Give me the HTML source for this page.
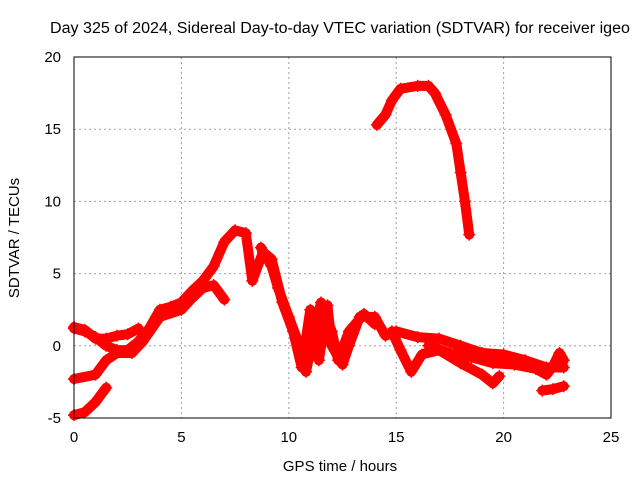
<!DOCTYPE html>
<html><head><meta charset="utf-8"><style>
body{margin:0;background:#fff}
svg text{font-family:"Liberation Sans",sans-serif;font-size:14px;fill:#000}
</style></head><body>
<svg id="chart" width="640" height="480" viewBox="0 0 640 480" xmlns="http://www.w3.org/2000/svg">
<rect width="640" height="480" fill="#fff"/>
<text x="340" y="33" text-anchor="middle" textLength="580" lengthAdjust="spacingAndGlyphs" style="font-size:15.5px">Day 325 of 2024, Sidereal Day-to-day VTEC variation (SDTVAR) for receiver igeo</text>
<g id="grid"></g>
<g id="series"></g>
<rect x="74" y="57" width="537" height="361" fill="none" stroke="#000" stroke-width="1"/>
<g id="ticks"></g>
<text x="340" y="471" text-anchor="middle" style="font-size:15px">GPS time / hours</text>
<text transform="translate(19,238) rotate(-90)" text-anchor="middle" style="font-size:15px">SDTVAR / TECUs</text>
</svg>
<script>
const xTicks=[0,5,10,15,20,25];
const yTicks=[-5,0,5,10,15,20];
const sA_h=[0,0.5,1,1.5,2,2.5,3,3.5,4,4.5,5,5.5,6,6.5,7,7.5,8,8.3,8.8,9.2,9.7,10.2,10.6,11,11.4,11.8,12,12.5,12.8,13.3,14,14.5,15,16,17,18,19,20,21,22,22.8];
const sA_v=[1.2,1,0.6,0,-0.3,-0.3,0.3,1.2,2.5,2.7,3,3.8,4.5,5.5,7.2,8,7.8,4.5,6.5,6,3,1,-1.5,2.5,-1,2.8,0,-1.3,0,2,2,0.7,1,0.6,0.5,0,-0.5,-0.6,-1,-1.5,-1.5];
const sB_h=[0,1,1.5,2,2.7,3.2,4,5,5.5,6,6.5,7];
const sB_v=[-2.3,-2,-1,-0.5,-0.5,0.3,2,2.5,3.3,4,4.2,3.2];
const sC_h=[0,0.5,1,1.5];
const sC_v=[-4.8,-4.6,-3.9,-2.9];
const sU_h=[0,0.5,1,1.5,2,2.5,3];
const sU_v=[1.3,1.1,0.5,0.5,0.7,0.8,1.2];
const sH_h=[8.7,9.2,9.5,10,10.5,10.8,11.2,11.5,12,12.3,12.8,13.5,14];
const sH_v=[6.8,5.5,4,2,0,-1.8,1,3,1,-1,1,2.2,1.5];
const sD_h=[14.8,15.2,15.7,16.2,17,18,19,19.5,19.8];
const sD_v=[1,-0.3,-1.8,-0.6,-0.3,-1.2,-2,-2.6,-2.1];
const sF_h=[16.5,17.5,18.5,19.5,20.5,21.5,22,22.3,22.6,22.8];
const sF_v=[0,-0.5,-0.8,-1.2,-1.3,-1.6,-2,-1.4,-0.5,-1];
const sG_h=[21.8,22.3,22.8];
const sG_v=[-3.1,-3,-2.8];
const sE_h=[14.1,14.5,14.8,15.2,16,16.5,16.8,17.3,17.8,18,18.2,18.4];
const sE_v=[15.3,16,17,17.8,18,18,17.5,16,14,12,10,7.7];
const series=[[sA_h,sA_v],[sB_h,sB_v],[sC_h,sC_v],[sU_h,sU_v],[sH_h,sH_v],[sD_h,sD_v],[sF_h,sF_v],[sG_h,sG_v],[sE_h,sE_v]];
const NS="http://www.w3.org/2000/svg";
const X=h=>74+h*537/25, Y=v=>57+(20-v)*361/25;
const grid=document.getElementById('grid'),ticks=document.getElementById('ticks'),sg=document.getElementById('series');
function mk(t,a,p){const e=document.createElementNS(NS,t);for(const k in a)e.setAttribute(k,a[k]);p.appendChild(e);return e;}
xTicks.forEach(t=>{
 if(t>0&&t<25){const g=mk('line',{x1:X(t),x2:X(t),y1:57,y2:418,stroke:'#a0a0a0','stroke-dasharray':'2,3'},grid);
 
 }
 const l=mk('text',{x:X(t),y:442,'text-anchor':'middle',style:'font-size:15px'},ticks);l.textContent=t;
 
 
});
yTicks.forEach(t=>{
 if(t>-5&&t<20){const g=mk('line',{x1:74,x2:611,y1:Y(t),y2:Y(t),stroke:'#a0a0a0','stroke-dasharray':'2,3'},grid);
 
 }
 const l=mk('text',{x:61,y:Y(t)+5,'text-anchor':'end',style:'font-size:15px'},ticks);l.textContent=t;
 
 
});
series.forEach((s,i)=>{
 const pts=s[0].map((h,j)=>X(h)+','+Y(s[1][j])).join(' ');
 const p=mk('polyline',{points:pts,fill:'none',stroke:'#ff0000','stroke-width':10,'stroke-linejoin':'round','stroke-linecap':'round'},sg);
 
 
 s[0].forEach((h,j)=>{
  const m=mk('path',{d:`M${X(h)-6},${Y(s[1][j])}h12M${X(h)},${Y(s[1][j])-6}v12`,stroke:'#ff0000','stroke-width':1.5},sg);
  
  
 });
});
</script>
</body></html>
